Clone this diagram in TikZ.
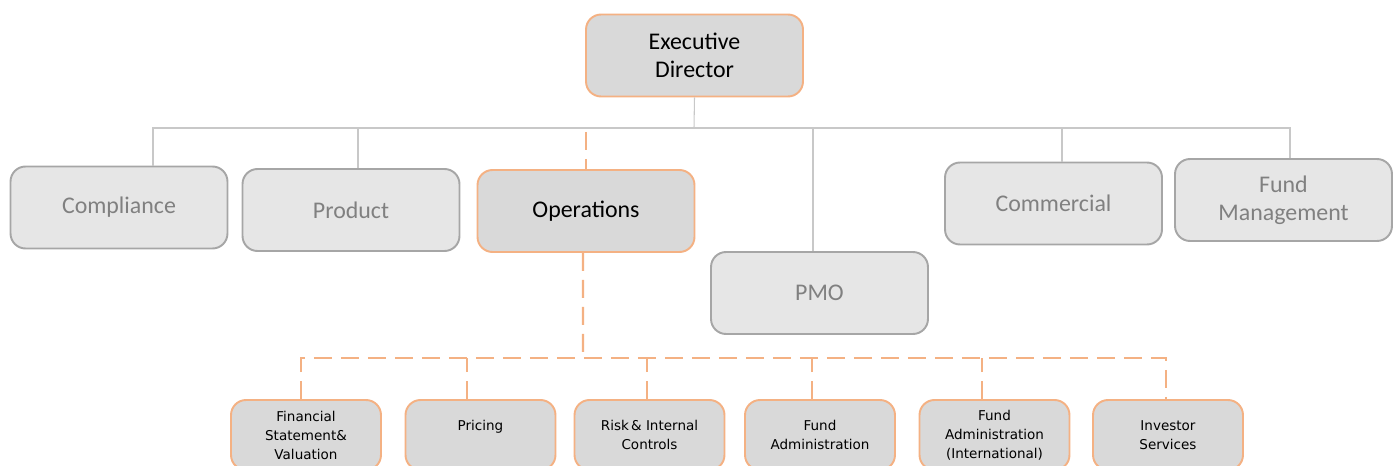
\documentclass[tikz,border=0pt]{standalone}
\usepackage{fontspec}
\setmainfont{Carlito}
\newfontfamily\unitfont{DejaVu Sans}
\usetikzlibrary{positioning,calc}

\definecolor{accent}{RGB}{244,177,131}
\definecolor{lightbox}{RGB}{230,230,230}
\definecolor{darkbox}{RGB}{217,217,217}
\definecolor{boxedge}{RGB}{166,166,166}
\definecolor{mutedtext}{RGB}{128,128,128}
\definecolor{treeline}{RGB}{200,200,200}

\begin{document}
\begin{tikzpicture}
	% Styles
	[
	x=0.02cm, y=-0.02cm,
	head/.style={rectangle,rounded corners=0.3cm,draw=accent,fill=darkbox,line width=1.1pt,minimum width=4.34cm,minimum height=1.64cm,align=center,font=\fontsize{13.6}{15.9}\selectfont},
	dept/.style={rectangle,rounded corners=0.3cm,draw=boxedge,fill=lightbox,line width=1.1pt,minimum width=4.34cm,minimum height=1.64cm,align=center,text=mutedtext,font=\fontsize{13.6}{15.9}\selectfont},
	unit/.style={rectangle,rounded corners=0.3cm,draw=accent,fill=darkbox,line width=1.1pt,minimum width=3.0cm,minimum height=1.4cm,align=center,font=\unitfont\fontsize{7.7}{10.8}\selectfont},
	tree/.style={draw=treeline,line width=0.6pt},
	dashlink/.style={draw=accent,line width=1.4pt,dash pattern=on 0.36cm off 0.18cm},
	]
	\useasboundingbox (0,0) rectangle (1397,466);

	% Nodes
	\node at (694.5,55.5)	(ed)	[head] {Executive\\Director};
	\node at (119,207.5)	(compliance)	[dept] {Compliance};
	\node at (351,210)	(product)	[dept] {Product};
	\node at (586,211)	(ops)	[head] {Operations};
	\node at (819.5,293)	(pmo)	[dept] {PMO};
	\node at (1053.5,203.5)	(commercial)	[dept] {Commercial};
	\node at (1283.5,200)	(fundmgmt)	[dept] {Fund\\Management};

	\node at (306,435)	(fsv)	[unit] {Financial\\Statement\&\\Valuation};
	\node at (480.5,435)	(pricing)	[unit] {Pricing\\\mbox{}};
	\node at (649.5,435)	(risk)	[unit] {Risk\,\& Internal\\Controls};
	\node at (820,435)	(fadmin)	[unit] {Fund\\Administration};
	\node at (994.5,435)	(fadminint)	[unit] {Fund\\Administration\\(International)};
	\node at (1168,435)	(investor)	[unit] {Investor\\Services};

	\coordinate (bus) at (694,128);
	\coordinate (opstop) at (586,132);
	\coordinate (subbus) at (583,358);

	% Connections
	\draw[tree] (ed.south) -- (bus);
	\draw[tree] ([xshift=0.68cm]compliance.north) |- (bus) -| ([xshift=0.13cm]fundmgmt.north);
	\draw[tree] ([xshift=0.14cm]product.north) -- ([xshift=0.14cm]product.north |- bus);
	\draw[tree] ([xshift=-0.13cm]pmo.north) -- ([xshift=-0.13cm]pmo.north |- bus);
	\draw[tree] ([xshift=0.17cm]commercial.north) -- ([xshift=0.17cm]commercial.north |- bus);

	\draw[dashlink] (opstop) -- (ops.north);
	\draw[dashlink] ([xshift=-0.06cm]ops.south) -- (subbus);
	\draw[dashlink] ([xshift=-0.1cm]fsv.north) |- (subbus) -| ([xshift=-0.04cm]investor.north);
	\foreach \n/\dx in {pricing/-0.27,risk/-0.05,fadmin/-0.16,fadminint/-0.25}
		\draw[dashlink] ([xshift=\dx cm]\n.north) -- ([xshift=\dx cm]\n.north |- subbus);

\end{tikzpicture}
\end{document}
